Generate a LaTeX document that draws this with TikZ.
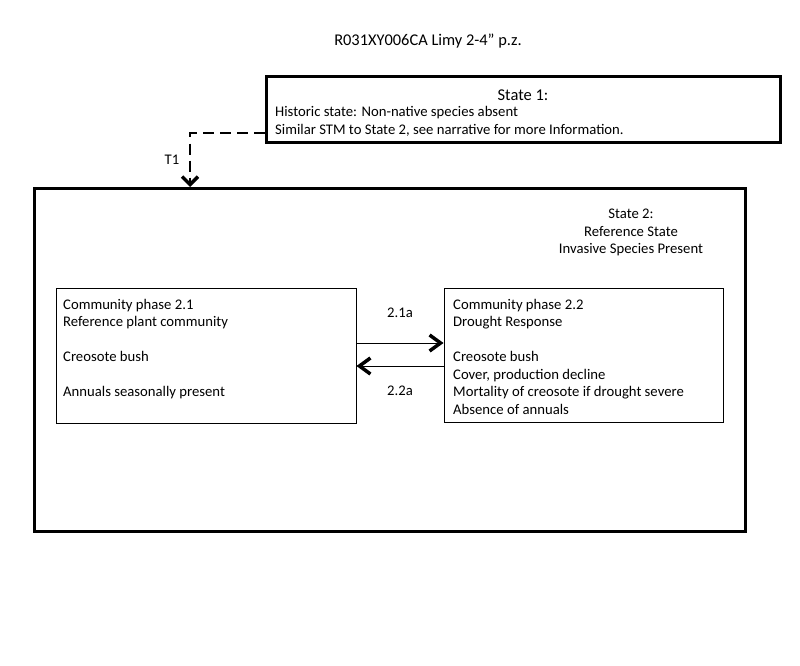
\documentclass[tikz,border=0pt]{standalone}
\usepackage{fontspec}
\setmainfont{Carlito}
\usetikzlibrary{arrows.meta,positioning}
\begin{document}
\begin{tikzpicture}[x=1pt,y=-1pt,
  state box/.style={draw,line width=3pt,inner sep=0pt},
  phase box/.style={draw,line width=0.9pt,inner sep=0pt},
  txt/.style={font=\fontsize{14.7}{17.5}\selectfont,inner sep=0pt,align=left},
  trans/.style={line width=1pt,-{Straight Barb[line width=3.5pt,length=11pt,width=16pt]}}]
\useasboundingbox (0,0) rectangle (800,666);
% title
\node[txt,font=\fontsize{16.4}{18}\selectfont] (title) at (428,41) {R031XY006CA Limy 2-4” p.z.};
% states
\node[state box,minimum width=514pt,minimum height=65pt] (s1) at (523,109.5) {};
\node[txt,font=\fontsize{16.5}{18}\selectfont] (s1head) at (523,95) {State 1:};
\node[txt,anchor=north west,font=\fontsize{14.7}{18}\selectfont] (s1text) at (275,106) {Historic state: Non-native species absent\\Similar STM to State 2, see narrative for more Information.};
\node[state box,minimum width=711pt,minimum height=343pt] (s2) at (389.5,359.5) {};
\node[txt,align=center] (s2text) at (631,232.5) {State 2:\\Reference State\\Invasive Species Present};
% community phases
\node[phase box,minimum width=300pt,minimum height=135pt] (p21) at (206,356) {};
\node[txt,anchor=north west] (p21text) at (63,299) {Community phase 2.1\\Reference plant community\\[17.5pt]Creosote bush\\[17.5pt]Annuals seasonally present};
\node[phase box,minimum width=279pt,minimum height=134pt] (p22) at (583.5,355.5) {};
\node[txt,anchor=north west] (p22text) at (453,299) {Community phase 2.2\\Drought Response\\[17.5pt]Creosote bush\\Cover, production decline\\Mortality of creosote if drought severe\\Absence of annuals};
% transitions
\draw[trans] (p21.east |- 0,343) coordinate (a1) -- (p22.west |- 0,343) coordinate (a2);
\draw[trans] (p22.west |- 0,366) coordinate (b1) -- (p21.east |- 0,366) coordinate (b2);
\node[txt] (l21) at (400,313) {2.1a};
\node[txt] (l22) at (400,391) {2.2a};
\draw[line width=2pt,dash pattern=on 11pt off 6pt,-{Straight Barb[line width=3.5pt,length=8pt,width=16pt]}]
  (s1.west |- 0,133) -| (190,187) coordinate (t1end);
\node[txt] (t1) at (172,160) {T1};
\end{tikzpicture}
\end{document}
